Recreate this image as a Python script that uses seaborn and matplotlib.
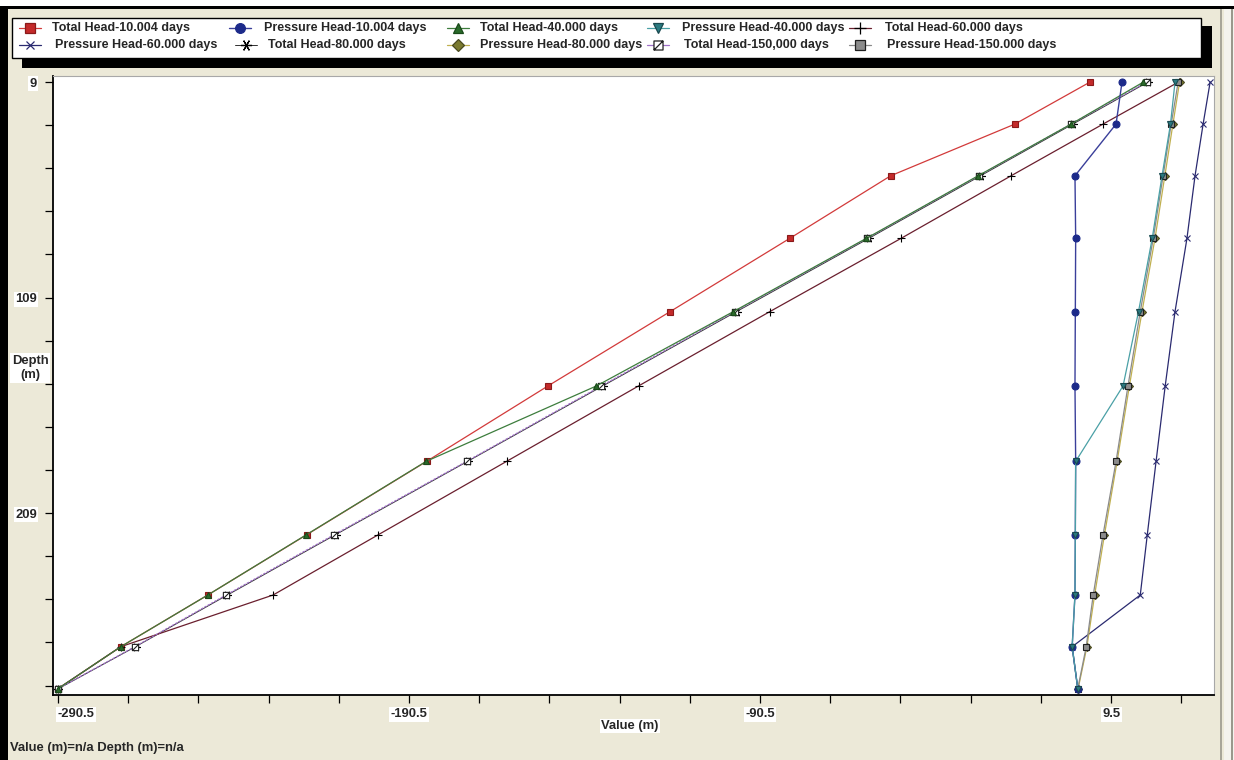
import numpy as np
import matplotlib
matplotlib.use("Agg")
import matplotlib.pyplot as plt
from matplotlib import font_manager
from matplotlib.lines import Line2D
from matplotlib.patches import Rectangle
from matplotlib.path import Path
import seaborn as sns

# Node depths (m) shared by every profile
DEPTH = [9, 28.5, 52.5, 81.5, 115.5, 150, 185, 219, 247, 271, 290.5]

# Head profiles (m) at each output time
TOTAL_10 = [3.5, -17.9, -53.3, -82.0, -116.1, -150.9, -185.5, -219.6, -247.8, -272.6, -290.5]
PRESS_10 = [12.6, 10.9, -0.8, -0.6, -0.7, -0.8, -0.6, -0.7, -0.8, -1.6, 0.0]
TOTAL_40 = [18.7, -1.9, -28.4, -60.2, -98.1, -137.1, -185.6, -219.7, -247.8, -272.6, -290.5]
PRESS_40 = [27.7, 26.4, 24.0, 21.2, 17.3, 12.9, -0.6, -0.7, -0.8, -1.6, 0.0]
TOTAL_60 = [28.7, 7.2, -19.0, -50.3, -87.7, -125.1, -162.7, -199.2, -229.2, -272.6, -290.5]
PRESS_60 = [37.7, 35.7, 33.4, 31.1, 27.7, 24.9, 22.3, 19.8, 17.8, -1.6, 0.0]
TOTAL_80 = [20.0, -1.4, -27.7, -59.5, -97.2, -135.3, -173.8, -211.4, -242.2, -268.4, -290.4]
PRESS_80 = [29.0, 27.1, 24.8, 22.0, 18.3, 14.7, 11.2, 7.6, 4.8, 2.6, 0.1]
TOTAL_150 = [19.6, -1.9, -28.2, -60.0, -97.7, -135.7, -174.1, -211.8, -242.6, -268.6, -290.5]
PRESS_150 = [28.6, 26.6, 24.3, 21.5, 17.8, 14.3, 10.9, 7.2, 4.4, 2.4, 0.0]

SERIES_NAMES = [
    "Total Head-10.004 days", "Pressure Head-10.004 days", "Total Head-40.000 days",
    "Pressure Head-40.000 days", "Total Head-60.000 days", "Pressure Head-60.000 days",
    "Total Head-80.000 days", "Pressure Head-80.000 days", "Total Head-150,000 days",
    "Pressure Head-150.000 days",
]
SERIES_VALUES = [TOTAL_10, PRESS_10, TOTAL_40, PRESS_40, TOTAL_60, PRESS_60,
                 TOTAL_80, PRESS_80, TOTAL_150, PRESS_150]

X_TICK_LABELS = ["-290.5", "-190.5", "-90.5", "9.5"]
Y_TICK_LABELS = ["9", "109", "209"]
X_LABEL = "Value (m)"
Y_LABEL = "Depth\n(m)"
STATUS_TEXT = "Value (m)=n/a Depth (m)=n/a"

# square-with-slash marker
_sq = [(-1, -1), (1, -1), (1, 1), (-1, 1), (-1, -1), (-1, -1), (1, 1)]
_codes = [Path.MOVETO, Path.LINETO, Path.LINETO, Path.LINETO, Path.CLOSEPOLY,
          Path.MOVETO, Path.LINETO]
SLASH_BOX = Path(_sq, _codes)

STYLES = [
    dict(color="#d23a3a", marker="s", ms=4.5, mfc="#c42a2a", mec="#8a1a1a", ls="-", lw=0.9, z=3),
    dict(color="#3a3f9a", marker="o", ms=5, mfc="#1c2a8a", mec="#1c2a8a", ls="-", lw=1.0, z=6),
    dict(color="#3d7d3d", marker="^", ms=5, mfc="#2a6a2a", mec="#1a4a1a", ls="-", lw=0.9, z=5),
    dict(color="#4aa0a6", marker="v", ms=5, mfc="#2a7a80", mec="#1a4a50", ls="-", lw=0.9, z=7),
    dict(color="#6a1f2e", marker="+", ms=6, mfc="black", mec="black", ls="-", lw=0.9, z=3),
    dict(color="#2a2a70", marker="x", ms=4, mfc="#2a2a70", mec="#2a2a70", ls="-", lw=0.9, z=3),
    dict(color="#303030", marker=(6, 2, 90), ms=6, mfc="black", mec="black", ls="-", lw=0.7, z=2),
    dict(color="#c0b050", marker="D", ms=4.5, mfc="#7a7a30", mec="#4a4a20", ls="-", lw=0.9, z=4),
    dict(color="#a070c8", marker=SLASH_BOX, ms=4.5, mfc="white", mec="#202020", ls=(0, (2, 1)), lw=0.9, z=4),
    dict(color="#8a8a8a", marker="s", ms=4.5, mfc="#8c8c8c", mec="#202020", ls="-", lw=0.9, z=5),
]

W, H = 1234, 760
BG = "#ece9d8"

sns.set_style("white")
_installed = {f.name for f in font_manager.fontManager.ttflist}
if "Liberation Sans Narrow" in _installed:
    FAMILY, FS, LEG_FS = ["Liberation Sans Narrow", "DejaVu Sans"], 10.5, 10.0
else:
    FAMILY, FS, LEG_FS = ["Liberation Sans", "DejaVu Sans"], 9.4, 9.0
plt.rcParams["font.family"] = FAMILY
plt.rcParams["font.weight"] = "bold"

fig = plt.figure(figsize=(W / 100, H / 100), dpi=100, facecolor=BG)


def fx(px):
    return px / W


def fy(py):
    return 1 - py / H


# window frame
fig.patches.append(Rectangle((0, fy(6)), 1, 6 / H, transform=fig.transFigure,
                             facecolor="white", edgecolor="none", zorder=0))
fig.patches.append(Rectangle((0, fy(9)), 1, 3 / H, transform=fig.transFigure,
                             facecolor="black", edgecolor="none", zorder=0))
fig.patches.append(Rectangle((0, 0), fx(8), fy(6), transform=fig.transFigure,
                             facecolor="black", edgecolor="none", zorder=0))
fig.patches.append(Rectangle((fx(1220), 0), 2 / W, fy(9), transform=fig.transFigure,
                             facecolor="#a8a69a", edgecolor="none", zorder=0))
fig.patches.append(Rectangle((fx(1224), 0), 10 / W, fy(9), transform=fig.transFigure,
                             facecolor="#f4f3ee", edgecolor="none", zorder=0))
fig.patches.append(Rectangle((fx(1231), 0), 2 / W, fy(9), transform=fig.transFigure,
                             facecolor="#9a988c", edgecolor="none", zorder=0))

# legend panel with drop shadow
fig.patches.append(Rectangle((fx(22), fy(68)), (1212 - 22) / W, (68 - 26) / H,
                             transform=fig.transFigure, facecolor="black",
                             edgecolor="none", zorder=1))
fig.patches.append(Rectangle((fx(12), fy(58)), (1201 - 12) / W, (58 - 18) / H,
                             transform=fig.transFigure, facecolor="white",
                             edgecolor="black", lw=1.0, zorder=2))

ax = fig.add_axes([fx(53), fy(695), (1214 - 53) / W, (695 - 76) / H])
ax.set_facecolor("white")

for vals, st in zip(SERIES_VALUES, STYLES):
    sns.lineplot(x=vals, y=DEPTH, orient="y", sort=False, estimator=None,
                 ax=ax, legend=False, color=st["color"], linestyle=st["ls"],
                 linewidth=st["lw"], marker=st["marker"], markersize=st["ms"],
                 markerfacecolor=st["mfc"], markeredgecolor=st["mec"],
                 markeredgewidth=0.8, zorder=st["z"])

ax.set_xlim(-291.9, 38.8)
ax.set_ylim(293.4, 6.2)

x_ticks = np.arange(-290.5, 30.0, 20.0)
y_ticks = np.arange(9, 290, 20)
ax.set_xticks(x_ticks)
ax.set_yticks(y_ticks)
xl = [""] * len(x_ticks)
for i, t in enumerate(X_TICK_LABELS):
    xl[i * 5] = t
yl = [""] * len(y_ticks)
for i, t in enumerate(Y_TICK_LABELS):
    yl[i * 5] = t
ax.set_xticklabels(xl)
ax.set_yticklabels(yl)
ax.tick_params(axis="both", direction="out", length=5.5, width=0.9, color="black",
               labelsize=FS, left=True, bottom=True)
ax.tick_params(axis="x", pad=4)
ax.tick_params(axis="y", pad=6)
for lbl in ax.get_xticklabels() + ax.get_yticklabels():
    lbl.set_fontweight("bold")
    lbl.set_bbox(dict(facecolor="white", edgecolor="none", pad=1.0))
# first value label sits just inside the axis start
ax.get_xticklabels()[0].set_horizontalalignment("left")
ax.set_xlabel("")
ax.set_ylabel("")

for side in ("left", "bottom"):
    ax.spines[side].set_color("black")
    ax.spines[side].set_linewidth(1.3)
for side in ("top", "right"):
    ax.spines[side].set_color("#a8a8a8")
    ax.spines[side].set_linewidth(0.8)

box = dict(facecolor="white", edgecolor="none", pad=1.0)
fig.text(fx(30), fy(368), Y_LABEL, ha="center", va="center", fontsize=FS,
         fontweight="bold", bbox=box, linespacing=1.3)
fig.text(fx(630), fy(726), X_LABEL, ha="center", va="center", fontsize=FS,
         fontweight="bold", bbox=box)
fig.text(fx(10), fy(748), STATUS_TEXT, ha="left", va="center", fontsize=FS,
         fontweight="bold")

# legend entries: (handle centre x, text left x, row y) in pixels
LEG_POS = [(30, 52, 28), (240, 264, 28), (458, 480, 28), (658, 682, 28), (860, 885, 28),
           (30, 55, 45), (246, 268, 45), (458, 480, 45), (658, 684, 45), (860, 887, 45)]
for name, st, (hx, tx, ry) in zip(SERIES_NAMES, STYLES, LEG_POS):
    ln = Line2D([fx(hx - 11), fx(hx), fx(hx + 11)], [fy(ry)] * 3,
                transform=fig.transFigure, color=st["color"], lw=st["lw"],
                marker=st["marker"], markevery=[1], markersize=st["ms"] + 2,
                markerfacecolor=st["mfc"], markeredgecolor=st["mec"],
                markeredgewidth=0.9, zorder=3)
    fig.lines.append(ln)
    fig.text(fx(tx), fy(ry), name, ha="left", va="center", fontsize=LEG_FS,
             fontweight="bold", zorder=3)

fig.savefig("out.png", dpi=100, facecolor=BG)
